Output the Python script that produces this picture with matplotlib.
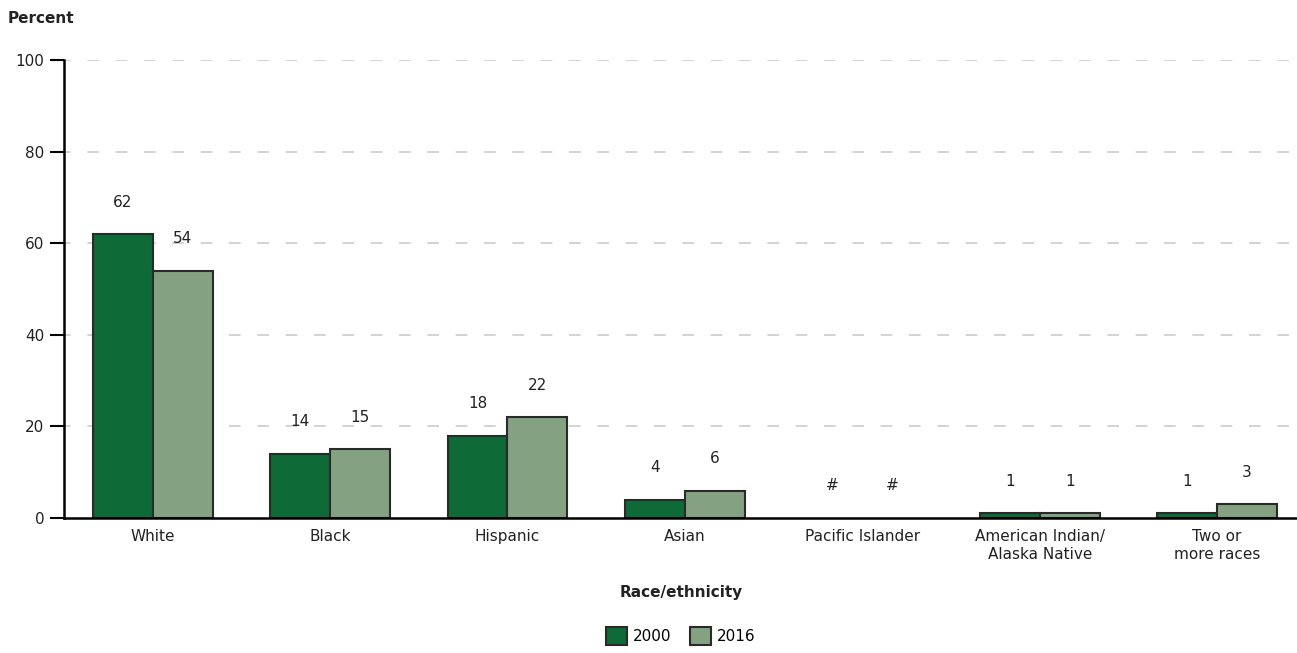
import matplotlib.pyplot as plt
import numpy as np

# Data
categories = ["White", "Black", "Hispanic", "Asian", "Pacific Islander",
              "American Indian/\nAlaska Native", "Two or\nmore races"]
pct_2000 = [62, 14, 18, 4, 0, 1, 1]
pct_2016 = [54, 15, 22, 6, 0, 1, 3]
labels_2000 = ["62", "14", "18", "4", "#", "1", "1"]
labels_2016 = ["54", "15", "22", "6", "#", "1", "3"]
years = ["2000", "2016"]

plt.rcParams['font.family'] = ['DejaVu Sans']

fig = plt.figure(figsize=(12.97, 6.53), dpi=100)
ax = fig.add_axes([0.0493, 0.2067, 0.9507, 0.7013])

x = np.arange(len(categories))
w = 0.338
dark = "#0e6a37"
light = "#84a282"
edge = "#2a2a2a"

# zero-height bars are not drawn (shown as "#")
lw_2000 = [1.5 if v > 0 else 0 for v in pct_2000]
lw_2016 = [1.5 if v > 0 else 0 for v in pct_2016]
b1 = ax.bar(x - w / 2, pct_2000, w, color=dark, edgecolor=edge, linewidth=lw_2000, label=years[0], zorder=3)
b2 = ax.bar(x + w / 2, pct_2016, w, color=light, edgecolor=edge, linewidth=lw_2016, label=years[1], zorder=3)

# Value labels above bars
for xi, v, lab in zip(x, pct_2000, labels_2000):
    ax.text(xi - w / 2, v + 7, lab, ha="center", va="center", fontsize=11, color="#222222")
for xi, v, lab in zip(x, pct_2016, labels_2016):
    ax.text(xi + w / 2, v + 7, lab, ha="center", va="center", fontsize=11, color="#222222")

ax.set_xlim(-0.5, 6.45)
ax.set_ylim(0, 100)
ax.set_yticks([0, 20, 40, 60, 80, 100])
ax.set_xticks(x)
ax.set_xticklabels(categories, fontsize=11, color="#222222", linespacing=1.2)
ax.tick_params(axis="x", length=0, pad=8)
ax.tick_params(axis="y", length=10, width=1.5, labelsize=11, labelcolor="#222222", pad=4)

for yv in [20, 40, 60, 80, 100]:
    ax.axhline(yv, color="#cccccc", linestyle=(3, (7, 10)), linewidth=1.2, zorder=1)

for s in ["top", "right"]:
    ax.spines[s].set_visible(False)
ax.spines["left"].set_linewidth(1.8)
ax.spines["bottom"].set_linewidth(1.8)
ax.spines["bottom"].set_zorder(4)

fig.text(0.006, 0.972, "Percent", fontsize=11, fontweight="bold", ha="left", va="center", color="#222222")
fig.text(0.525, 0.093, "Race/ethnicity", fontsize=11, fontweight="bold", ha="center", va="center", color="#222222")

leg = fig.legend(handles=[b1, b2], loc="center", bbox_to_anchor=(0.525, 0.026), ncol=2, frameon=False,
                 fontsize=11, handlelength=1.35, handleheight=1.35, handletextpad=0.4, columnspacing=1.2)

fig.savefig("out.png", dpi=100)
